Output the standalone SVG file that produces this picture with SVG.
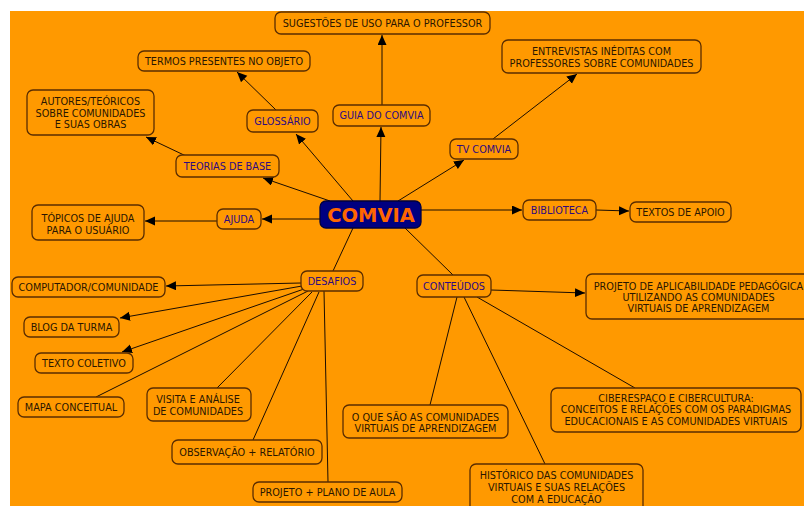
<svg xmlns="http://www.w3.org/2000/svg" width="804" height="506" viewBox="0 0 804 506">
<defs>
<marker id="arr" markerUnits="userSpaceOnUse" markerWidth="11" markerHeight="10" refX="10" refY="4.5" orient="auto">
<path d="M0,0 L10,4.5 L0,9 z" fill="#000"/>
</marker>
<style>
.n rect{fill:#FF9900;stroke:#5a2d00;stroke-width:1.3}
.n text{font-family:"DejaVu Sans",Verdana,sans-serif;font-size:9.7px;fill:#2a1600;text-anchor:middle}
.n1 text{fill:#2e0a80}
.c line{stroke:#1a0d00;stroke-width:1}
.c .a{marker-end:url(#arr)}
</style>
</defs>
<rect x="0" y="0" width="804" height="506" fill="#fff"/>
<rect x="10" y="11" width="794" height="495" fill="#FF9900"/>
<g id="connectors" class="c">
<line class="a" x1="330" y1="201" x2="263" y2="178"/>
<line class="a" x1="353" y1="201" x2="296" y2="134"/>
<line class="a" x1="380" y1="201" x2="381" y2="127"/>
<line class="a" x1="398" y1="201" x2="464" y2="160"/>
<line class="a" x1="320" y1="219" x2="262" y2="219"/>
<line class="a" x1="421" y1="210" x2="522" y2="210"/>
<line x1="353" y1="228" x2="333" y2="271"/>
<line x1="405" y1="228" x2="453" y2="275"/>
<line class="a" x1="276" y1="110" x2="237" y2="72"/>
<line class="a" x1="186" y1="156" x2="146" y2="137"/>
<line class="a" x1="382" y1="105" x2="382" y2="35"/>
<line class="a" x1="493" y1="139" x2="577" y2="74"/>
<line class="a" x1="217" y1="221" x2="145" y2="221"/>
<line class="a" x1="596" y1="210" x2="629" y2="211"/>
<line class="a" x1="301" y1="283" x2="166" y2="286"/>
<line class="a" x1="302" y1="286" x2="120" y2="318"/>
<line class="a" x1="304" y1="289" x2="122" y2="352"/>
<line x1="308" y1="291" x2="96" y2="397"/>
<line x1="312" y1="292" x2="217" y2="388"/>
<line x1="319" y1="292" x2="253" y2="440"/>
<line x1="324" y1="291" x2="328" y2="482"/>
<line class="a" x1="491" y1="290" x2="585" y2="293"/>
<line x1="457" y1="297" x2="430" y2="405"/>
<line x1="464" y1="297" x2="545" y2="464"/>
<line x1="477" y1="297" x2="635" y2="388"/>
</g>
<g id="root">
<rect x="320" y="201" width="101" height="27" rx="6" fill="#000080" stroke="#000040" stroke-width="1.3"/>
<text x="371" y="221.5" font-family="DejaVu Sans,Verdana,sans-serif" font-size="19.5" font-weight="bold" fill="#FF6600" text-anchor="middle">COMVIA</text>
</g>
<g id="glossario" class="n n1"><rect x="247" y="110" width="71" height="22" rx="6"/><text x="282.5" y="124.5">GLOSSÁRIO</text></g>
<g id="guia" class="n n1"><rect x="333" y="105" width="97" height="21" rx="6"/><text x="381.5" y="119">GUIA DO COMVIA</text></g>
<g id="tv" class="n n1"><rect x="450" y="139" width="68" height="20" rx="6"/><text x="484" y="152.5">TV COMVIA</text></g>
<g id="teorias" class="n n1"><rect x="176" y="155" width="103" height="22" rx="6"/><text x="227.5" y="169.5">TEORIAS DE BASE</text></g>
<g id="ajuda" class="n n1"><rect x="217" y="209" width="44" height="20" rx="6"/><text x="239" y="222.5">AJUDA</text></g>
<g id="biblioteca" class="n n1"><rect x="523" y="200" width="73" height="20" rx="6"/><text x="559.5" y="213.5">BIBLIOTECA</text></g>
<g id="desafios" class="n n1"><rect x="301" y="271" width="62" height="20" rx="6"/><text x="332" y="284.5">DESAFIOS</text></g>
<g id="conteudos" class="n n1"><rect x="417" y="275" width="74" height="22" rx="6"/><text x="454" y="289.5">CONTEÚDOS</text></g>
<g id="sugestoes" class="n"><rect x="275" y="12" width="215" height="22" rx="6"/><text x="382.5" y="26.5">SUGESTÕES DE USO PARA O PROFESSOR</text></g>
<g id="termos" class="n"><rect x="138" y="51" width="172" height="20" rx="6"/><text x="224" y="64.5">TERMOS PRESENTES NO OBJETO</text></g>
<g id="autores" class="n"><rect x="27" y="90" width="127" height="45" rx="6"/><text x="90.5" y="104.5">AUTORES/TEÓRICOS</text><text x="90.5" y="116.5">SOBRE COMUNIDADES</text><text x="90.5" y="128">E SUAS OBRAS</text></g>
<g id="entrevistas" class="n"><rect x="502" y="40" width="199" height="33" rx="6"/><text x="601.5" y="55">ENTREVISTAS INÉDITAS COM</text><text x="601.5" y="67">PROFESSORES SOBRE COMUNIDADES</text></g>
<g id="topicos" class="n"><rect x="32" y="205" width="112" height="35" rx="6"/><text x="88" y="221.5">TÓPICOS DE AJUDA</text><text x="88" y="233.5">PARA O USUÁRIO</text></g>
<g id="textos" class="n"><rect x="630" y="202" width="101" height="20" rx="6"/><text x="680.5" y="215.5">TEXTOS DE APOIO</text></g>
<g id="computador" class="n"><rect x="12" y="277" width="153" height="20" rx="6"/><text x="88.5" y="290.5">COMPUTADOR/COMUNIDADE</text></g>
<g id="blog" class="n"><rect x="24" y="317" width="95" height="20" rx="6"/><text x="71.5" y="330.5">BLOG DA TURMA</text></g>
<g id="textocoletivo" class="n"><rect x="35" y="353" width="98" height="20" rx="6"/><text x="84" y="366.5">TEXTO COLETIVO</text></g>
<g id="mapa" class="n"><rect x="18" y="397" width="106" height="20" rx="6"/><text x="71" y="410.5">MAPA CONCEITUAL</text></g>
<g id="visita" class="n"><rect x="147" y="388" width="104" height="33" rx="6"/><text x="198" y="402.5">VISITA E ANÁLISE</text><text x="198" y="414.5">DE COMUNIDADES</text></g>
<g id="observacao" class="n"><rect x="172" y="440" width="150" height="24" rx="6"/><text x="247" y="455.5">OBSERVAÇÃO + RELATÓRIO</text></g>
<g id="projetoplano" class="n"><rect x="253" y="482" width="149" height="20" rx="6"/><text x="327.5" y="495.5">PROJETO + PLANO DE AULA</text></g>
<g id="oquesao" class="n"><rect x="343" y="405" width="165" height="33" rx="6"/><text x="425.5" y="420.5">O QUE SÃO AS COMUNIDADES</text><text x="425.5" y="432">VIRTUAIS DE APRENDIZAGEM</text></g>
<g id="historico" class="n"><rect x="470" y="464" width="173" height="50" rx="6"/><text x="556.5" y="478.5">HISTÓRICO DAS COMUNIDADES</text><text x="556.5" y="491">VIRTUAIS E SUAS RELAÇÕES</text><text x="556.5" y="502.5">COM A EDUCAÇÃO</text></g>
<g id="ciberespaco" class="n"><rect x="551" y="388" width="250" height="44" rx="6"/><text x="676" y="401.5">CIBERESPAÇO E CIBERCULTURA:</text><text x="676" y="413">CONCEITOS E RELAÇÕES COM OS PARADIGMAS</text><text x="676" y="424.5">EDUCACIONAIS E AS COMUNIDADES VIRTUAIS</text></g>
<g id="aplicabilidade" class="n"><rect x="586" y="274" width="226" height="45" rx="6"/><text x="698.5" y="289.5">PROJETO DE APLICABILIDADE PEDAGÓGICA</text><text x="698.5" y="301">UTILIZANDO AS COMUNIDADES</text><text x="698.5" y="312">VIRTUAIS DE APRENDIZAGEM</text></g>
</svg>
